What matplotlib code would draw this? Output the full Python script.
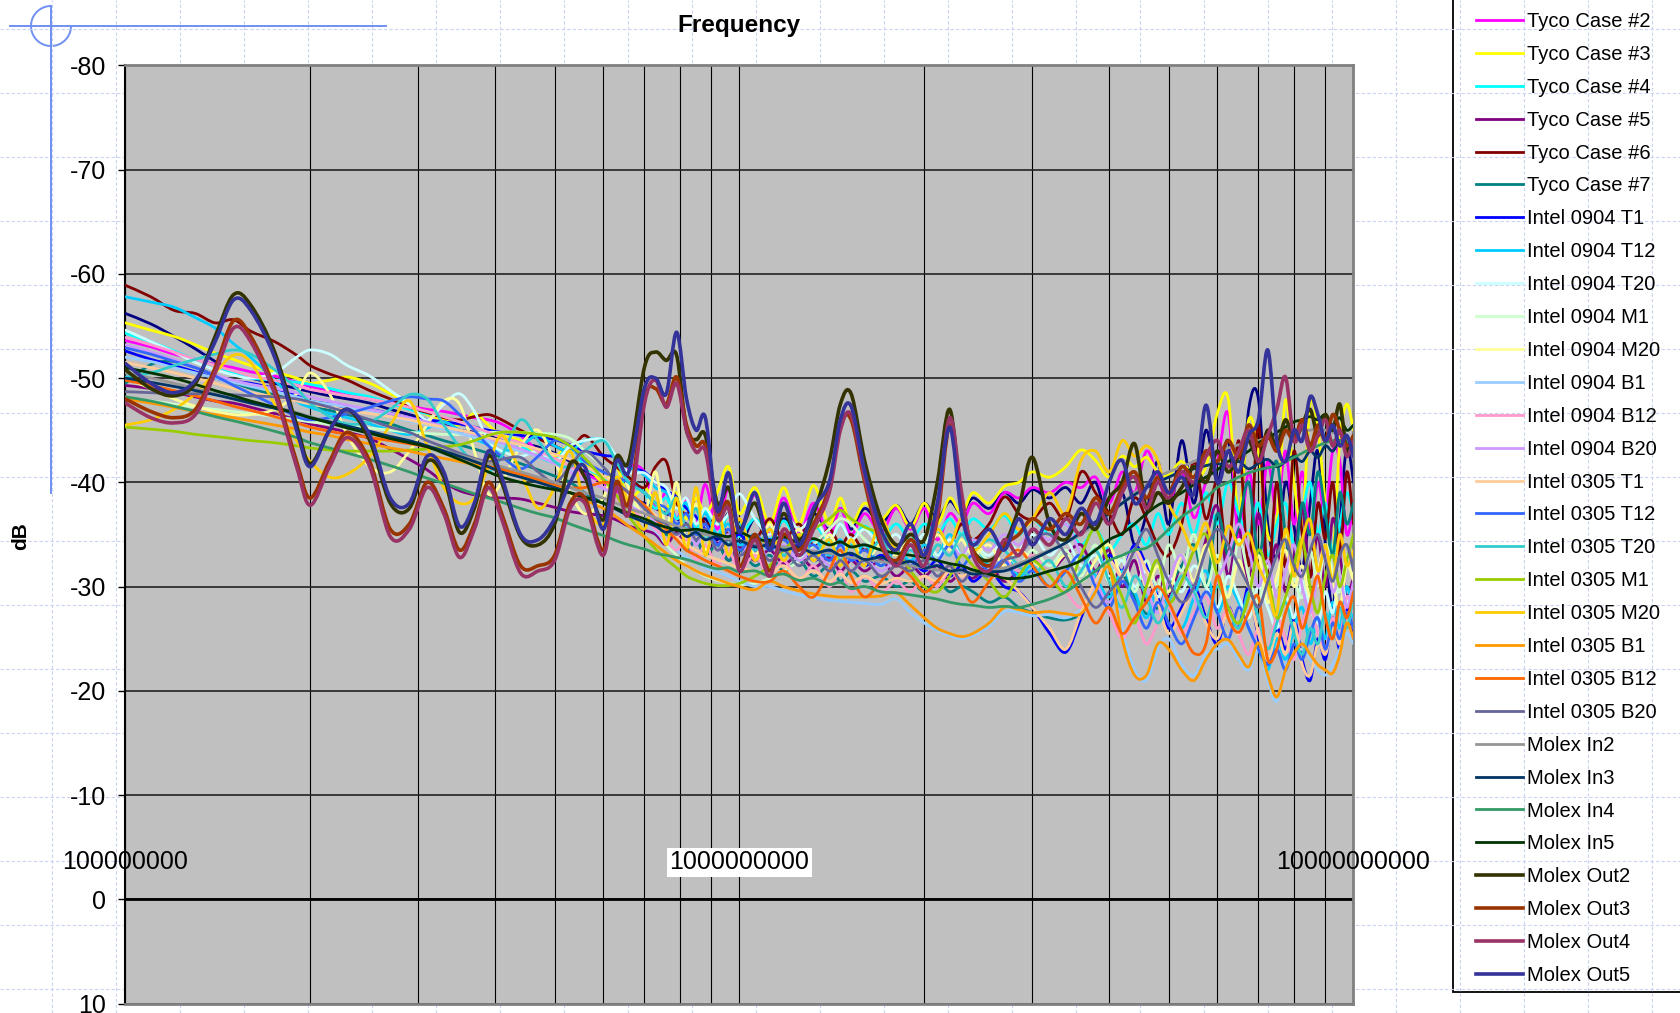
import numpy as np
import matplotlib
matplotlib.use("Agg")
import matplotlib.pyplot as plt
from matplotlib.patches import Arc, Rectangle, PathPatch
from matplotlib.path import Path
from matplotlib.lines import Line2D

plt.rcParams['font.family'] = ['Liberation Sans', 'DejaVu Sans']
plt.rcParams['axes.unicode_minus'] = False

# sweep points (MHz)
freq_mhz = [100, 110, 120, 130, 140, 150, 160, 175, 190, 200,
            215, 230, 250, 270, 290, 310, 330, 350, 370, 390,
            410, 440, 470, 500, 530, 560, 600, 630, 660, 700,
            730, 760, 790, 820, 850, 880, 920, 960, 1000, 1060,
            1120, 1180, 1250, 1320, 1400, 1460, 1520, 1600, 1700, 1800,
            1900, 2000, 2100, 2200, 2300, 2400, 2550, 2700, 2850, 3000,
            3200, 3400, 3600, 3800, 4000, 4200, 4400, 4600, 4800, 5000,
            5250, 5500, 5750, 6000, 6250, 6500, 6750, 7000, 7250, 7500,
            7750, 8000, 8250, 8500, 8750, 9000, 9250, 9500, 9750, 10000]

tyco_1 = [-56.2, -55.2, -54.0, -52.8, -51.6, -50.6, -50.0, -49.5, -49.0, -48.7,
          -48.3, -48.0, -47.6, -47.0, -46.5, -46.0, -45.5, -45.0, -44.8, -44.5,
          -44.2, -43.8, -43.4, -42.8, -42.0, -41.0, -40.0, -39.5, -38.5, -38.0,
          -37.5, -37.0, -36.5, -36.0, -35.5, -36.5, -34.5, -37.0, -34.0, -36.5,
          -34.0, -36.5, -35.0, -37.0, -35.5, -37.5, -35.5, -37.5, -36.0, -37.8,
          -36.0, -38.0, -36.5, -38.2, -37.0, -38.5, -37.5, -39.0, -38.0, -39.3,
          -38.5, -39.5, -38.0, -40.0, -36.0, -39.0, -34.0, -37.0, -42.0, -36.0,
          -44.0, -38.0, -45.0, -40.0, -44.0, -36.0, -47.0, -48.0, -36.0, -33.0,
          -40.0, -35.8, -31.6, -38.0, -43.0, -34.0, -28.0, -36.0, -43.4, -40.0]
tyco_2 = [-53.6, -53.0, -52.3, -51.8, -51.3, -51.0, -50.6, -50.2, -49.6, -49.2,
          -48.8, -48.4, -48.0, -47.6, -47.3, -47.0, -46.8, -46.5, -46.2, -46.0,
          -45.6, -44.5, -43.0, -42.0, -41.5, -40.8, -40.0, -39.0, -41.5, -41.0,
          -37.5, -39.0, -36.5, -38.5, -36.0, -39.8, -35.5, -39.5, -35.5, -38.8,
          -35.0, -38.5, -35.0, -38.0, -35.0, -37.5, -35.0, -37.0, -35.2, -37.5,
          -35.5, -37.5, -34.5, -37.0, -36.0, -38.0, -37.0, -39.0, -38.5, -39.5,
          -39.0, -40.0, -39.5, -40.5, -38.0, -41.0, -39.0, -43.0, -40.5, -38.0,
          -41.0, -36.6, -40.0, -42.0, -46.6, -34.6, -41.0, -36.0, -42.0, -37.0,
          -43.0, -36.0, -41.0, -35.0, -40.0, -37.0, -43.0, -42.0, -35.0, -38.0]
tyco_3 = [-55.3, -54.6, -54.0, -53.2, -52.4, -51.8, -51.2, -50.6, -50.0, -49.5,
          -49.8, -50.1, -49.5, -48.5, -47.5, -46.5, -46.0, -45.5, -46.6, -45.5,
          -44.5, -44.0, -42.5, -42.5, -43.5, -42.0, -40.0, -41.5, -38.5, -39.5,
          -38.0, -37.5, -39.0, -36.5, -38.5, -37.0, -39.0, -41.5, -37.0, -39.5,
          -36.0, -39.5, -36.0, -39.7, -36.0, -38.5, -36.0, -38.0, -36.5, -37.8,
          -35.7, -38.0, -36.0, -38.5, -37.0, -39.0, -38.0, -39.6, -40.0, -41.0,
          -40.5, -41.5, -43.1, -42.1, -40.5, -42.5, -41.5, -42.4, -41.0, -40.7,
          -42.0, -40.5, -41.5, -46.6, -48.0, -37.0, -46.0, -43.0, -35.0, -36.4,
          -47.9, -40.0, -36.0, -47.5, -45.0, -38.0, -33.0, -44.0, -47.5, -45.0]
tyco_4 = [-54.3, -53.5, -52.6, -51.8, -51.2, -50.5, -50.0, -49.8, -49.6, -49.4,
          -49.0, -48.6, -48.2, -47.6, -47.0, -46.6, -46.3, -45.8, -45.3, -44.8,
          -44.3, -43.5, -42.5, -42.0, -43.5, -41.5, -40.5, -39.5, -40.5, -39.0,
          -37.5, -38.5, -36.5, -37.8, -35.5, -37.2, -35.0, -36.8, -34.8, -36.5,
          -34.5, -36.3, -34.5, -36.0, -34.3, -36.0, -34.5, -35.8, -34.5, -36.0,
          -34.5, -36.0, -35.0, -36.5, -35.0, -36.5, -35.5, -36.8, -35.0, -36.5,
          -35.0, -36.0, -34.0, -35.5, -33.5, -35.0, -36.0, -34.0, -37.0, -35.0,
          -38.0, -35.0, -39.0, -36.0, -40.0, -37.0, -35.0, -38.0, -33.0, -36.0,
          -38.0, -34.0, -37.0, -40.0, -35.0, -38.0, -33.0, -36.0, -39.0, -37.0]
tyco_5 = [-49.3, -49.0, -48.6, -48.2, -47.8, -47.6, -47.2, -46.6, -46.0, -45.6,
          -45.2, -44.8, -44.2, -43.2, -42.2, -41.2, -40.0, -39.2, -38.8, -38.6,
          -38.5, -38.4, -38.0, -37.6, -37.2, -37.0, -36.8, -36.4, -35.8, -35.4,
          -35.0, -34.0, -35.2, -33.5, -34.5, -33.0, -34.2, -32.5, -33.8, -32.5,
          -33.5, -32.2, -33.0, -31.8, -32.8, -31.5, -32.5, -31.5, -32.5, -31.0,
          -32.0, -31.0, -32.0, -30.5, -31.5, -30.8, -32.0, -30.5, -31.5, -32.5,
          -31.5, -33.0, -34.0, -31.5, -33.5, -30.0, -32.5, -28.5, -31.0, -29.0,
          -32.0, -30.0, -34.5, -37.7, -31.0, -35.5, -30.0, -37.0, -31.5, -34.0,
          -29.5, -33.0, -37.5, -31.0, -35.0, -30.0, -36.5, -33.0, -29.0, -31.0]
tyco_6 = [-58.9, -57.8, -56.5, -56.2, -55.3, -55.6, -54.5, -53.5, -52.2, -51.2,
          -50.4, -49.8, -48.8, -48.0, -47.2, -46.7, -46.2, -46.0, -46.3, -46.5,
          -46.0, -45.0, -44.2, -43.5, -43.0, -44.5, -42.5, -41.5, -40.5, -39.5,
          -41.5, -42.0, -38.0, -37.0, -38.0, -36.0, -36.5, -35.0, -35.5, -34.5,
          -36.5, -34.5, -36.0, -34.0, -35.5, -34.0, -35.0, -33.5, -34.5, -33.0,
          -34.5, -33.0, -35.0, -34.0, -36.0, -34.5, -36.0, -38.6, -37.0, -36.5,
          -38.0, -36.5, -41.0, -39.0, -37.0, -35.0, -38.5, -36.5, -34.0, -33.0,
          -36.0, -42.0, -36.5, -40.0, -33.0, -44.0, -32.0, -45.6, -30.9, -40.0,
          -31.9, -43.0, -35.0, -30.9, -38.0, -34.6, -40.0, -33.0, -41.0, -36.0]
tyco_7 = [-49.5, -51.3, -51.6, -51.0, -50.3, -49.6, -49.0, -48.4, -47.8, -47.3,
          -46.9, -46.5, -46.0, -45.6, -45.0, -44.5, -44.0, -43.6, -43.2, -42.8,
          -42.4, -41.8, -41.2, -40.6, -40.0, -39.0, -38.0, -37.5, -37.0, -36.5,
          -36.0, -35.0, -34.8, -33.5, -34.5, -33.0, -34.0, -32.5, -33.5, -32.0,
          -33.0, -31.5, -32.5, -31.0, -32.0, -30.5, -31.5, -30.5, -31.0, -30.0,
          -30.5, -29.5, -30.5, -29.5, -30.0, -29.5, -28.5, -29.0, -28.0, -27.5,
          -27.0, -26.8, -27.5, -30.0, -28.5, -31.0, -29.0, -27.4, -28.0, -30.0,
          -32.0, -34.0, -30.0, -37.0, -33.0, -36.0, -40.0, -33.0, -38.0, -42.0,
          -35.0, -32.0, -38.0, -35.0, -41.0, -37.0, -33.0, -39.0, -36.0, -38.0]

i0904_t1 = [-52.6, -51.8, -51.2, -50.6, -50.0, -49.7, -49.5, -49.0, -48.3, -47.8,
            -47.5, -47.2, -47.0, -46.6, -46.2, -46.0, -45.8, -45.6, -45.3, -45.0,
            -44.8, -44.5, -44.3, -44.1, -43.6, -43.0, -42.6, -42.4, -41.5, -41.0,
            -40.0, -39.2, -38.6, -37.5, -36.7, -35.5, -34.8, -34.0, -35.0, -33.5,
            -34.5, -33.0, -34.0, -32.5, -33.5, -32.5, -33.0, -32.0, -33.0, -32.0,
            -32.5, -31.5, -32.5, -31.0, -32.0, -30.5, -31.5, -30.0, -29.5, -28.0,
            -25.5, -23.7, -27.0, -30.5, -33.0, -31.5, -34.0, -32.0, -29.0, -26.0,
            -28.0, -30.0, -27.0, -24.5, -28.0, -26.0, -30.0, -25.0, -22.5, -26.0,
            -24.0, -27.0, -23.0, -21.0, -25.0, -23.0, -27.0, -24.0, -28.0, -25.0]
i0904_t12 = [-57.8, -57.3, -56.8, -55.8, -54.8, -53.3, -52.0, -49.8, -47.8, -47.2,
             -46.6, -46.2, -45.6, -45.0, -44.6, -45.2, -45.8, -45.0, -44.2, -43.6,
             -43.0, -43.5, -44.5, -43.5, -43.0, -44.0, -44.1, -42.5, -41.5, -40.7,
             -39.5, -39.0, -37.5, -38.0, -36.0, -37.0, -35.0, -36.0, -34.0, -35.0,
             -33.5, -35.0, -33.0, -34.5, -33.0, -34.5, -32.5, -34.0, -32.0, -33.5,
             -32.5, -34.0, -33.0, -35.0, -33.0, -34.5, -32.0, -33.5, -31.0, -32.0,
             -30.0, -31.5, -33.0, -31.0, -29.0, -31.5, -29.5, -27.0, -30.0, -28.0,
             -26.0, -29.0, -31.5, -27.5, -30.0, -28.5, -26.0, -24.0, -22.0, -25.0,
             -23.0, -26.0, -28.0, -24.5, -27.0, -25.0, -28.5, -26.0, -30.0, -27.0]
i0904_t20 = [-54.6, -53.5, -52.5, -51.5, -50.8, -50.3, -50.0, -50.5, -52.0, -52.7,
             -52.3, -51.2, -50.2, -48.8, -47.5, -46.0, -47.5, -48.5, -46.8, -44.0,
             -43.0, -42.5, -43.0, -42.0, -43.5, -44.0, -44.1, -42.5, -41.0, -40.9,
             -40.0, -39.5, -37.5, -38.5, -36.0, -37.5, -36.0, -37.0, -38.9, -36.5,
             -35.0, -37.0, -35.5, -36.5, -34.5, -36.0, -34.5, -35.5, -34.0, -35.0,
             -33.5, -35.0, -33.0, -34.5, -33.0, -34.0, -33.0, -34.5, -33.5, -35.0,
             -33.0, -34.5, -32.0, -33.0, -31.0, -32.5, -30.0, -31.5, -29.0, -31.0,
             -29.5, -32.0, -30.0, -28.0, -31.0, -29.0, -27.0, -30.0, -28.0, -26.0,
             -29.0, -27.0, -30.5, -28.0, -26.5, -29.5, -27.5, -31.0, -28.5, -30.0]
i0904_m1 = [-48.0, -47.8, -47.5, -47.2, -47.0, -46.8, -46.6, -46.3, -46.0, -45.8,
            -45.6, -45.4, -45.2, -45.0, -44.8, -44.7, -44.6, -44.6, -44.7, -44.8,
            -44.8, -44.8, -44.7, -44.6, -44.2, -43.0, -41.5, -40.0, -38.5, -36.5,
            -35.5, -34.0, -33.0, -32.0, -31.5, -31.0, -30.6, -30.3, -30.2, -30.3,
            -30.8, -31.5, -32.5, -34.0, -35.5, -36.5, -36.0, -34.5, -33.5, -34.0,
            -33.0, -34.5, -32.5, -34.0, -33.0, -34.0, -32.5, -33.5, -32.0, -33.5,
            -32.0, -33.5, -31.0, -34.0, -30.5, -33.0, -29.5, -32.5, -30.0, -34.0,
            -31.5, -35.0, -30.0, -33.0, -29.0, -34.5, -31.0, -28.5, -32.0, -30.0,
            -35.0, -31.0, -29.0, -33.5, -30.0, -34.0, -31.5, -29.5, -33.0, -31.0]
i0904_m20 = [-50.0, -49.0, -48.0, -47.3, -46.8, -46.5, -46.5, -47.0, -48.5, -50.5,
             -48.5, -44.5, -41.5, -41.0, -43.0, -45.5, -47.8, -47.5, -43.0, -38.9,
             -40.0, -43.5, -45.0, -42.0, -39.0, -37.0, -38.5, -42.0, -39.5, -37.0,
             -41.0, -35.5, -40.0, -34.0, -38.0, -33.5, -37.0, -34.0, -36.5, -33.0,
             -36.0, -33.0, -35.5, -32.5, -35.0, -33.0, -34.5, -32.5, -34.0, -33.0,
             -34.5, -33.0, -35.0, -33.5, -34.5, -33.0, -34.0, -32.0, -33.5, -32.5,
             -31.5, -33.0, -30.5, -32.5, -34.0, -31.0, -33.5, -30.0, -32.0, -29.5,
             -33.0, -30.5, -34.0, -31.0, -29.0, -32.5, -30.0, -33.0, -28.5, -31.0,
             -33.5, -30.0, -32.0, -29.0, -31.5, -34.0, -30.5, -28.0, -32.0, -30.5]
i0904_b1 = [-52.0, -51.6, -51.0, -50.5, -50.0, -49.6, -49.2, -48.7, -48.2, -47.8,
            -47.5, -47.2, -46.8, -46.3, -45.9, -45.5, -45.1, -44.7, -44.3, -43.9,
            -43.5, -43.0, -42.5, -42.0, -41.3, -40.5, -39.5, -38.6, -37.5, -36.3,
            -35.3, -34.3, -33.5, -32.8, -32.3, -31.8, -31.4, -31.0, -30.5, -30.0,
            -30.0, -29.6, -29.2, -28.9, -28.7, -28.6, -28.5, -28.4, -28.3, -28.8,
            -27.5, -26.5, -25.8, -25.3, -25.0, -25.3, -26.2, -27.6, -27.5, -27.2,
            -27.3, -27.0, -27.8, -30.0, -32.5, -26.0, -22.0, -21.0, -24.0, -25.0,
            -22.5, -21.5, -23.5, -24.0, -24.5, -23.0, -22.0, -24.0, -21.0, -19.0,
            -22.5, -23.0, -24.0, -23.0, -22.0, -21.5, -22.5, -24.0, -25.5, -24.5]
i0904_b12 = [-53.9, -53.2, -52.5, -51.8, -51.2, -50.7, -50.2, -49.8, -49.3, -48.9,
             -48.6, -48.3, -48.0, -47.6, -47.2, -46.8, -46.3, -45.8, -45.3, -44.8,
             -44.3, -43.8, -43.0, -42.3, -41.5, -40.5, -39.5, -38.5, -37.5, -36.5,
             -35.5, -34.5, -33.5, -34.5, -32.5, -34.0, -32.0, -33.5, -31.5, -33.0,
             -31.0, -32.5, -30.5, -32.0, -30.0, -31.5, -29.5, -31.0, -29.5, -30.5,
             -29.5, -31.0, -30.0, -31.5, -30.5, -32.0, -31.0, -32.5, -31.5, -33.0,
             -31.0, -29.5, -28.0, -30.0, -27.5, -25.0, -27.0, -24.5, -26.5, -28.0,
             -25.5, -27.5, -29.0, -26.0, -28.0, -25.5, -23.5, -26.0, -24.0, -27.0,
             -25.0, -23.0, -26.5, -28.0, -25.5, -24.0, -27.0, -25.0, -29.0, -27.5]
i0904_b20 = [-53.2, -52.5, -51.8, -51.0, -50.3, -49.8, -49.4, -49.0, -48.6, -48.2,
             -47.8, -47.4, -47.0, -46.6, -46.2, -45.8, -45.4, -45.0, -44.6, -44.2,
             -43.8, -43.2, -42.5, -41.8, -41.0, -40.2, -39.4, -38.6, -37.8, -37.0,
             -36.3, -35.5, -34.8, -35.8, -34.0, -35.5, -33.5, -35.0, -33.0, -34.5,
             -32.5, -34.0, -32.5, -33.5, -32.0, -33.0, -31.5, -32.5, -31.5, -32.5,
             -32.0, -33.5, -32.5, -34.0, -33.0, -34.5, -33.5, -35.0, -34.0, -35.5,
             -34.5, -36.0, -33.0, -30.5, -28.5, -31.0, -33.5, -30.0, -27.5, -30.5,
             -33.0, -29.0, -27.0, -30.5, -33.0, -36.0, -33.5, -30.0, -32.5, -29.0,
             -31.5, -34.0, -30.0, -27.5, -31.0, -33.5, -29.5, -31.0, -28.0, -30.5]

i0305_t1 = [-51.5, -51.0, -50.5, -50.0, -49.5, -49.0, -48.6, -48.2, -47.8, -47.5,
            -47.2, -46.9, -46.6, -46.3, -46.0, -45.6, -45.3, -45.0, -44.7, -44.3,
            -44.0, -43.6, -43.2, -42.7, -42.2, -41.5, -40.6, -39.8, -38.8, -37.8,
            -36.8, -35.8, -34.8, -34.0, -33.5, -33.0, -32.6, -32.2, -31.8, -31.5,
            -31.2, -32.0, -30.8, -31.5, -30.5, -31.2, -30.4, -31.0, -30.3, -30.8,
            -30.5, -31.0, -30.5, -31.5, -31.0, -31.5, -31.0, -30.8, -29.5, -28.0,
            -26.0, -24.0, -27.5, -30.5, -32.5, -31.0, -33.5, -31.5, -28.5, -25.5,
            -27.5, -29.5, -26.5, -25.0, -27.5, -25.5, -29.0, -25.5, -23.0, -25.5,
            -23.5, -26.5, -22.5, -21.5, -24.5, -23.5, -26.0, -24.5, -27.5, -26.0]
i0305_t12 = [-52.9, -52.3, -51.6, -51.0, -50.2, -49.3, -48.5, -47.4, -46.3, -46.0,
             -46.2, -46.6, -47.2, -47.8, -48.2, -48.0, -47.8, -46.5, -45.0, -43.5,
             -42.5, -41.3, -42.5, -44.0, -43.5, -42.0, -41.0, -40.5, -40.0, -39.0,
             -38.0, -37.5, -36.0, -37.0, -35.0, -36.0, -34.0, -35.5, -33.5, -35.0,
             -33.5, -34.5, -33.0, -34.0, -32.5, -34.0, -32.5, -33.5, -32.0, -33.5,
             -32.0, -33.5, -32.5, -34.0, -32.0, -33.0, -31.5, -32.5, -30.5, -31.5,
             -30.0, -31.5, -33.0, -30.0, -28.0, -30.5, -28.5, -26.0, -28.5, -26.5,
             -24.5, -27.0, -29.5, -27.5, -25.0, -28.0, -26.0, -24.0, -22.5, -24.0,
             -22.0, -24.5, -23.0, -25.5, -27.0, -24.0, -26.5, -25.0, -27.5, -26.0]
i0305_t20 = [-50.1, -50.5, -51.2, -51.8, -52.3, -52.7, -52.3, -50.8, -49.0, -47.6,
             -46.3, -45.6, -45.8, -47.0, -48.4, -48.0, -45.5, -43.4, -41.8, -41.0,
             -42.5, -46.0, -44.0, -42.0, -41.5, -43.0, -44.0, -42.0, -40.0, -39.0,
             -38.0, -37.0, -38.5, -35.5, -37.5, -34.5, -36.5, -34.0, -36.0, -33.5,
             -35.5, -33.0, -35.0, -33.0, -34.5, -32.5, -34.0, -32.5, -34.5, -32.0,
             -33.5, -32.0, -34.0, -33.0, -35.0, -33.5, -34.5, -33.5, -32.0, -31.0,
             -32.5, -30.0, -31.5, -33.5, -30.5, -28.0, -31.0, -29.0, -26.5, -28.5,
             -31.0, -29.5, -27.0, -30.0, -28.0, -26.0, -29.5, -27.0, -24.0, -26.5,
             -28.5, -25.5, -23.5, -26.0, -24.5, -27.5, -25.0, -28.0, -26.0, -29.0]
i0305_m1 = [-45.3, -45.1, -44.9, -44.6, -44.4, -44.2, -44.0, -43.8, -43.5, -43.3,
            -43.1, -43.0, -43.0, -43.0, -43.1, -43.2, -43.4, -43.6, -44.0, -44.5,
            -44.8, -44.8, -44.6, -44.3, -43.5, -42.3, -40.3, -38.8, -36.8, -34.8,
            -33.6, -32.6, -31.8, -31.0, -30.6, -30.3, -30.1, -30.1, -30.3, -31.0,
            -32.0, -33.5, -34.8, -35.5, -36.5, -37.3, -36.5, -35.7, -35.0, -33.5,
            -31.5, -30.0, -29.5, -31.0, -33.0, -32.0, -30.5, -29.0, -31.0, -32.5,
            -31.0, -29.5, -33.0, -35.5, -32.0, -29.0, -26.5, -30.0, -32.5, -28.5,
            -30.5, -33.5, -35.0, -31.0, -28.0, -26.5, -29.0, -33.5, -31.0, -27.0,
            -29.0, -32.0, -34.5, -30.0, -27.5, -31.0, -33.0, -30.0, -32.5, -35.0]
i0305_m20 = [-45.5, -46.0, -47.0, -48.5, -50.5, -52.2, -51.5, -47.5, -44.0, -42.0,
             -40.5, -40.8, -42.5, -45.5, -47.8, -43.5, -39.5, -38.0, -38.5, -41.5,
             -44.5, -41.0, -37.5, -39.5, -43.0, -38.0, -36.0, -40.5, -38.0, -35.5,
             -39.0, -34.0, -38.5, -33.5, -39.5, -33.0, -37.5, -33.0, -36.5, -32.5,
             -35.5, -32.5, -35.0, -32.5, -34.5, -32.0, -34.5, -32.0, -36.5, -33.5,
             -36.0, -33.0, -35.5, -34.0, -36.5, -33.5, -35.0, -37.0, -35.5, -36.5,
             -39.0, -37.0, -42.1, -43.0, -41.0, -44.0, -42.5, -43.5, -42.1, -38.0,
             -35.8, -33.5, -36.1, -32.3, -35.8, -34.0, -35.1, -32.0, -30.0, -27.4,
             -35.5, -31.0, -34.5, -36.4, -31.5, -34.0, -30.5, -35.0, -32.0, -33.5]
i0305_b1 = [-48.0, -47.6, -47.2, -46.8, -46.5, -46.2, -45.9, -45.5, -45.1, -44.8,
            -44.5, -44.1, -43.7, -43.3, -43.0, -42.6, -42.3, -42.0, -41.7, -41.4,
            -41.1, -40.6, -40.1, -39.6, -39.0, -38.3, -37.5, -36.7, -35.8, -34.8,
            -34.0, -33.2, -32.5, -32.0, -31.5, -31.1, -30.7, -30.3, -30.0, -29.7,
            -30.5, -30.0, -29.6, -29.3, -29.1, -29.0, -29.0, -29.0, -29.1, -29.4,
            -28.2, -27.0, -26.0, -25.5, -25.2, -25.5, -26.5, -28.0, -27.8, -27.5,
            -27.6, -27.4, -27.4, -29.5, -31.8, -25.0, -21.5, -21.5, -24.5, -24.0,
            -22.0, -21.0, -23.0, -24.5, -24.9, -23.5, -22.3, -24.6, -21.5, -19.4,
            -22.0, -23.6, -24.5, -23.5, -22.5, -22.0, -21.7, -23.5, -26.5, -25.0]
i0305_b12 = [-49.8, -49.3, -48.8, -48.3, -47.8, -47.3, -46.9, -46.3, -45.7, -45.3,
             -44.9, -44.6, -44.3, -44.0, -43.7, -43.4, -43.0, -42.5, -42.0, -41.6,
             -41.3, -40.8, -40.3, -39.8, -39.5, -39.5, -40.0, -39.8, -39.0, -37.8,
             -36.5, -35.5, -34.5, -33.5, -33.0, -32.5, -32.0, -31.5, -31.0, -30.5,
             -30.5, -31.5, -30.0, -29.0, -31.5, -33.5, -31.0, -29.0, -30.5, -32.0,
             -31.0, -29.5, -30.5, -32.0, -30.0, -28.5, -30.5, -32.5, -33.5, -32.0,
             -30.0, -31.5, -29.0, -26.5, -28.0, -25.5, -27.0, -28.5, -30.0, -28.5,
             -25.8, -23.6, -24.5, -31.0, -27.0, -25.6, -27.5, -29.0, -23.0, -24.0,
             -27.5, -29.0, -26.0, -28.5, -31.0, -27.0, -25.0, -28.5, -27.0, -29.5]
i0305_b20 = [-48.7, -48.6, -48.5, -48.5, -48.5, -48.4, -48.3, -48.2, -48.0, -47.7,
             -47.2, -46.7, -46.0, -45.3, -44.8, -44.0, -43.4, -42.8, -42.3, -42.0,
             -42.2, -42.4, -41.0, -40.0, -41.5, -43.0, -41.5, -40.0, -39.0, -37.5,
             -36.5, -36.0, -35.0, -36.0, -34.5, -35.5, -33.5, -34.5, -33.0, -34.0,
             -32.5, -33.5, -32.0, -33.0, -31.5, -32.5, -31.5, -32.5, -31.0, -32.0,
             -31.5, -32.5, -31.0, -32.0, -30.5, -31.5, -31.0, -32.5, -33.0, -34.5,
             -35.0, -33.0, -30.0, -28.0, -29.5, -31.0, -33.5, -35.5, -33.0, -30.5,
             -28.5, -30.0, -33.5, -35.5, -34.0, -32.0, -30.0, -28.0, -30.5, -33.0,
             -34.5, -32.0, -31.0, -33.5, -35.0, -32.5, -30.5, -33.0, -34.0, -31.5]

molex_in2 = [-50.5, -50.0, -49.5, -49.0, -48.5, -48.0, -47.6, -47.2, -46.7, -46.3,
             -45.8, -45.3, -44.8, -44.3, -43.9, -43.5, -43.0, -42.6, -42.2, -41.8,
             -41.5, -41.0, -40.5, -40.0, -39.5, -39.0, -38.5, -38.0, -37.5, -37.0,
             -36.6, -36.2, -35.8, -35.5, -35.2, -35.0, -34.8, -34.6, -34.4, -34.2,
             -34.0, -33.8, -33.6, -33.4, -33.2, -33.0, -32.8, -32.6, -32.4, -32.2,
             -32.0, -31.8, -31.6, -31.5, -31.4, -31.4, -31.5, -31.8, -32.2, -32.8,
             -33.5, -34.2, -35.0, -36.0, -37.0, -38.0, -39.0, -39.8, -40.5, -41.0,
             -41.5, -42.0, -42.5, -43.0, -43.3, -43.6, -43.8, -44.0, -44.3, -44.5,
             -44.6, -44.8, -45.0, -45.0, -45.2, -45.0, -44.8, -44.6, -44.3, -44.0]
molex_in3 = [-50.0, -49.6, -49.2, -48.8, -48.4, -48.0, -47.6, -47.1, -46.6, -46.2,
             -45.8, -45.4, -44.9, -44.4, -44.0, -43.5, -43.0, -42.5, -42.0, -41.5,
             -41.0, -40.5, -40.0, -39.5, -39.0, -38.5, -38.0, -37.4, -36.8, -36.2,
             -35.8, -35.2, -35.6, -34.8, -35.2, -34.5, -34.8, -34.0, -34.4, -33.8,
             -34.0, -33.5, -33.8, -33.2, -33.5, -33.0, -33.2, -32.6, -32.8, -32.2,
             -32.4, -31.8, -32.0, -31.5, -31.6, -31.2, -31.4, -31.5, -32.0, -32.6,
             -33.4, -34.2, -35.2, -36.2, -37.0, -38.0, -38.8, -39.5, -40.0, -40.5,
             -41.0, -41.3, -41.6, -41.8, -41.5, -42.0, -41.3, -41.8, -42.2, -41.5,
             -42.0, -42.5, -42.0, -43.0, -42.4, -43.5, -43.0, -44.0, -43.5, -43.0]
molex_in4 = [-48.2, -47.8, -47.3, -46.8, -46.3, -45.9, -45.5, -44.9, -44.3, -43.8,
             -43.3, -42.8, -42.2, -41.6, -41.0, -40.4, -39.9, -39.4, -38.9, -38.5,
             -38.1, -37.5, -37.0, -36.6, -36.0, -35.5, -34.9, -34.4, -34.0, -33.6,
             -33.2, -33.0, -32.8, -32.6, -32.3, -32.0, -31.7, -31.8, -31.4, -31.5,
             -31.0, -31.2, -30.6, -30.8, -30.2, -30.4, -29.8, -30.0, -29.5, -29.4,
             -29.2, -29.0, -28.8, -28.5, -28.3, -28.2, -28.0, -28.1, -28.0, -28.3,
             -28.8, -29.5, -30.5, -31.5, -32.5, -33.0, -33.5, -33.7, -34.5, -35.5,
             -36.7, -37.5, -38.5, -39.5, -40.0, -40.5, -40.9, -41.2, -41.4, -41.6,
             -42.0, -42.4, -42.8, -43.2, -43.5, -43.8, -44.0, -44.0, -43.8, -44.0]
molex_in5 = [-51.0, -50.5, -50.0, -49.4, -48.8, -48.3, -47.8, -47.2, -46.6, -46.2,
             -45.7, -45.2, -44.7, -44.2, -43.8, -43.4, -42.8, -42.2, -41.6, -41.0,
             -40.5, -40.0, -39.6, -39.3, -39.0, -38.6, -38.0, -37.5, -37.0, -36.5,
             -36.0, -35.7, -35.4, -35.4, -35.5, -35.3, -35.0, -34.8, -35.2, -34.6,
             -34.4, -34.8, -34.2, -34.6, -34.0, -34.3, -33.8, -34.0, -33.5, -33.2,
             -33.0, -32.8, -32.5, -32.2, -32.0, -31.6, -31.2, -30.8, -30.8, -31.0,
             -31.5, -31.9, -32.5, -33.5, -34.5, -35.1, -36.0, -37.0, -37.8, -38.3,
             -39.0, -39.8, -40.5, -41.2, -42.0, -42.5, -43.0, -43.8, -44.2, -44.8,
             -45.3, -45.8, -46.0, -46.3, -46.0, -46.5, -45.5, -46.2, -45.0, -45.5]
molex_out2 = [-50.8, -49.0, -48.3, -49.5, -54.0, -58.0, -57.0, -52.5, -45.5, -41.8,
              -45.0, -47.0, -44.0, -38.0, -37.5, -42.0, -40.5, -35.2, -37.5, -42.5,
              -40.0, -34.8, -34.0, -36.0, -41.8, -40.5, -36.4, -42.4, -42.0, -51.0,
              -52.5, -51.7, -52.2, -45.0, -44.1, -44.5, -38.0, -39.5, -35.5, -38.0,
              -34.0, -37.0, -34.5, -37.0, -42.0, -47.5, -48.5, -42.0, -36.5, -34.0,
              -35.0, -34.5, -40.0, -47.0, -38.0, -33.5, -32.5, -34.0, -37.5, -42.4,
              -36.0, -34.5, -37.0, -35.5, -38.5, -40.0, -43.7, -37.5, -39.0, -38.0,
              -39.5, -41.5, -40.0, -43.0, -41.0, -42.5, -44.0, -42.0, -45.0, -43.5,
              -46.0, -44.0, -45.5, -47.0, -44.5, -46.5, -45.0, -47.5, -43.0, -44.0]
molex_out3 = [-48.0, -46.8, -46.2, -47.0, -51.0, -55.5, -54.0, -49.0, -42.0, -38.5,
              -42.0, -44.8, -42.0, -35.5, -36.0, -40.0, -37.5, -33.5, -36.0, -40.0,
              -37.0, -32.0, -32.0, -33.0, -38.0, -38.5, -33.5, -40.0, -38.0, -48.0,
              -49.0, -47.5, -50.1, -45.5, -43.5, -43.5, -37.0, -38.0, -32.0, -35.0,
              -31.5, -35.0, -33.5, -36.0, -39.5, -45.5, -46.0, -40.0, -34.0, -32.5,
              -34.5, -33.0, -36.5, -45.5, -38.5, -33.5, -32.0, -34.0, -35.0, -36.5,
              -35.5, -37.0, -36.0, -38.5, -37.0, -39.5, -41.0, -38.5, -40.5, -39.0,
              -41.5, -40.5, -43.0, -42.0, -44.0, -42.5, -45.5, -43.5, -44.5, -43.0,
              -45.0, -44.0, -46.0, -43.5, -45.5, -44.0, -46.5, -45.0, -43.5, -44.5]
molex_out4 = [-47.6, -46.2, -45.7, -46.5, -50.5, -54.8, -53.5, -48.5, -41.5, -37.8,
              -41.5, -44.3, -41.5, -34.8, -35.5, -39.5, -37.0, -32.8, -35.5, -39.5,
              -36.5, -31.3, -31.5, -32.5, -37.5, -38.0, -33.0, -39.5, -37.0, -47.5,
              -49.8, -47.2, -49.5, -45.0, -42.9, -43.0, -36.5, -37.5, -31.5, -34.5,
              -31.0, -35.5, -33.0, -35.5, -39.0, -45.0, -46.5, -40.5, -34.5, -32.0,
              -34.0, -32.0, -37.0, -46.2, -39.0, -33.0, -31.5, -34.5, -33.0, -35.5,
              -34.0, -36.5, -35.0, -38.0, -36.0, -39.0, -40.5, -37.5, -40.0, -38.5,
              -41.0, -40.0, -42.5, -44.0, -41.5, -43.0, -45.0, -42.0, -44.5, -47.0,
              -50.1, -44.0, -45.5, -43.0, -44.5, -46.0, -43.5, -45.0, -42.5, -44.0]
molex_out5 = [-51.4, -49.5, -48.6, -49.8, -53.5, -57.5, -56.5, -52.0, -45.0, -41.5,
              -45.0, -47.0, -44.5, -38.5, -38.0, -42.5, -41.0, -35.8, -38.0, -43.0,
              -40.5, -35.0, -34.5, -36.5, -40.0, -41.5, -35.5, -42.0, -41.0, -49.0,
              -50.0, -48.5, -54.4, -48.0, -45.0, -46.2, -37.3, -40.9, -35.2, -39.0,
              -33.5, -38.0, -34.0, -37.5, -40.0, -46.0, -47.3, -41.0, -35.5, -33.5,
              -36.0, -33.0, -38.0, -45.3, -37.0, -34.0, -35.5, -33.5, -36.5, -34.0,
              -36.5, -35.0, -37.5, -36.0, -40.0, -42.1, -38.0, -39.5, -41.0, -39.0,
              -40.5, -39.0, -47.4, -40.0, -43.0, -41.0, -44.5, -46.0, -52.7, -44.0,
              -42.0, -45.0, -44.0, -48.2, -46.5, -44.0, -45.5, -43.5, -44.5, -42.5]

series_names = ['Tyco Case #1', 'Tyco Case #2', 'Tyco Case #3', 'Tyco Case #4',
                'Tyco Case #5', 'Tyco Case #6', 'Tyco Case #7',
                'Intel 0904 T1', 'Intel 0904 T12', 'Intel 0904 T20', 'Intel 0904 M1',
                'Intel 0904 M20', 'Intel 0904 B1', 'Intel 0904 B12', 'Intel 0904 B20',
                'Intel 0305 T1', 'Intel 0305 T12', 'Intel 0305 T20', 'Intel 0305 M1',
                'Intel 0305 M20', 'Intel 0305 B1', 'Intel 0305 B12', 'Intel 0305 B20',
                'Molex In2', 'Molex In3', 'Molex In4', 'Molex In5',
                'Molex Out2', 'Molex Out3', 'Molex Out4', 'Molex Out5']
series_values = [tyco_1, tyco_2, tyco_3, tyco_4, tyco_5, tyco_6, tyco_7,
                 i0904_t1, i0904_t12, i0904_t20, i0904_m1, i0904_m20,
                 i0904_b1, i0904_b12, i0904_b20,
                 i0305_t1, i0305_t12, i0305_t20, i0305_m1, i0305_m20,
                 i0305_b1, i0305_b12, i0305_b20,
                 molex_in2, molex_in3, molex_in4, molex_in5,
                 molex_out2, molex_out3, molex_out4, molex_out5]
series_colors = ['#000080', '#FF00FF', '#FFFF00', '#00FFFF', '#800080', '#800000', '#008080',
                 '#0000FF', '#00CCFF', '#CCFFFF', '#CCFFCC', '#FFFF99', '#99CCFF', '#FF99CC',
                 '#CC99FF', '#FFCC99', '#3366FF', '#33CCCC', '#99CC00', '#FFCC00', '#FF9900',
                 '#FF6600', '#666699', '#969696', '#003366', '#339966', '#003300', '#333300',
                 '#993300', '#993366', '#333399']


def smoothed_path(f, db):
    """Spreadsheet-style smoothed line: cubic Bezier segments through every
    sample, control points taken in log-frequency space."""
    lx = np.log10(np.asarray(f, dtype=float))
    y = np.asarray(db, dtype=float)
    n = len(lx)
    verts = [(f[0], y[0])]
    codes = [Path.MOVETO]
    for i in range(n - 1):
        i0, i2 = max(i - 1, 0), min(i + 2, n - 1)
        c1x = lx[i] + (lx[i + 1] - lx[i0]) / 6
        c1y = y[i] + (y[i + 1] - y[i0]) / 6
        c2x = lx[i + 1] - (lx[i2] - lx[i]) / 6
        c2y = y[i + 1] - (y[i2] - y[i]) / 6
        verts += [(10 ** c1x, c1y), (10 ** c2x, c2y), (f[i + 1], y[i + 1])]
        codes += [Path.CURVE4] * 3
    return Path(verts, codes)


W, H = 1681, 1013
fig = plt.figure(figsize=(W / 100, H / 100), dpi=100)

# page background: dashed sheet grid, anchor mark, legend box
bg = fig.add_axes([0, 0, 1, 1], zorder=-5)
bg.set_xlim(0, W)
bg.set_ylim(H, 0)
bg.axis('off')
for gx in range(52, W, 64):
    bg.axvline(gx, color='#c9d4f3', lw=0.8, ls=(0, (3, 2)))
for gy in range(29, H, 64):
    bg.axhline(gy, color='#c9d4f3', lw=0.8, ls=(0, (3, 2)))
mark = '#7090f2'
bg.plot([10, 386], [26, 26], color=mark, lw=1.4)
bg.plot([51, 51], [6, 493], color=mark, lw=1.4)
bg.add_patch(Arc((51, 26), 40, 40, theta1=0, theta2=270, color=mark, lw=1.4))
bg.add_patch(Rectangle((1453, -30), 300, 1022, facecolor='white',
                       edgecolor='black', lw=1.3))

ax = fig.add_axes([125.4 / W, 1 - 1003.5 / H, (1353.5 - 125.4) / W, (1003.5 - 65.4) / H])
ax.set_facecolor('#c0c0c0')
ax.set_xscale('log')
ax.set_xlim(1e8, 1e10)
ax.set_ylim(10, -80)

freq_hz = [v * 1e6 for v in freq_mhz]
handles = []
for name, vals, col in zip(series_names, series_values, series_colors):
    lw = 2.6 if name.startswith('Molex Out') else 2.0
    ax.add_patch(PathPatch(smoothed_path(freq_hz, vals), facecolor='none',
                           edgecolor=col, lw=lw, zorder=3, capstyle='round',
                           joinstyle='round'))
    handles.append(Line2D([], [], color=col, lw=lw))

ax.set_yticks(np.arange(-80, 11, 10))
ax.set_axisbelow(True)
ax.grid(True, which='both', axis='x', color='black', lw=0.8)
ax.grid(True, which='major', axis='y', color='#222222', lw=1.2)
ax.axhline(0, color='black', lw=2.0, zorder=2)
ax.tick_params(axis='x', which='both', length=0, labelbottom=False)
ax.tick_params(axis='y', length=5, width=1, pad=9, labelsize=18)
for side in ['top', 'right', 'bottom']:
    ax.spines[side].set_color('#808080')
    ax.spines[side].set_linewidth(2)
ax.spines['left'].set_color('black')
ax.spines['left'].set_linewidth(1.5)

for xv, txt in [(1e8, '100000000'), (1e9, '1000000000'), (1e10, '10000000000')]:
    kw = {}
    if xv == 1e9:
        kw['bbox'] = dict(facecolor='white', edgecolor='none', pad=2)
    ax.text(xv, -3.55, txt, ha='center', va='center', fontsize=18,
            clip_on=False, zorder=6, **kw)

fig.text(738.7 / W, 1 - 25.5 / H, 'Frequency', ha='center', va='center',
         fontsize=17.5, fontweight='bold')
fig.text(21 / W, 1 - 536 / H, 'dB', ha='center', va='center', rotation=90,
         fontsize=15, fontweight='bold')

fig.legend(handles, series_names, loc='lower left',
           bbox_to_anchor=(1476 / W, (H - 985) / H), frameon=False,
           fontsize=14.5, handlelength=2.35, handletextpad=0.2,
           labelspacing=0.69, borderpad=0, borderaxespad=0)

fig.savefig('out.png', dpi=100)
